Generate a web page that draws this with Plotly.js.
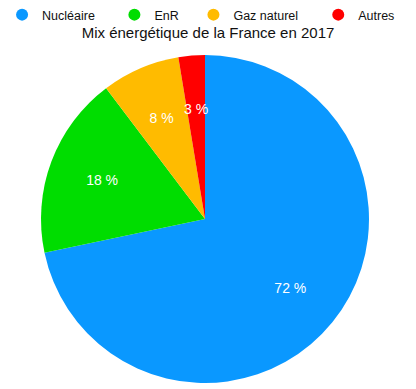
<!DOCTYPE html>
<html><head><meta charset="utf-8">
<script src="https://cdn.plot.ly/plotly-3.0.1.min.js"></script>
<style>html,body{margin:0;padding:0;background:#fff}#chart{width:416px;height:389px}</style>
</head><body><div id="chart"></div>
<script>
const labels = ["Nucléaire", "EnR", "Gaz naturel", "Autres"];
const values = [71.7, 18.0, 7.7, 2.6];
const colors = ["#0a98ff", "#00dd00", "#ffbb00", "#ff0000"];
const legendX = [0.005, 0.275, 0.465, 0.765];

const total = values.reduce((a, b) => a + b, 0);
const pctText = values.map(v => Math.round(v / total * 100) + " %");
const font = "Liberation Sans, Arial, Helvetica, sans-serif";
const cx = 205 / 416, cy = 1 - 219 / 389, rx = 164 / 416, ry = 164 / 389;
function domainScaled(k) {
  return {x: [cx - rx * k, cx + rx * k], y: [cy - ry * k, cy + ry * k]};
}

// label radius fraction (labels sit at ~2/3 of the radius, like the reference)
const labelR = 0.67, hole = 0.34;

const traces = [{
  type: "pie",
  labels: labels,
  values: values,
  textinfo: "none",
  sort: false,
  direction: "clockwise",
  marker: {colors: colors, line: {width: 0}},
  showlegend: false,
  hoverinfo: "label+percent",
  domain: domainScaled(1)
}];
// one transparent overlay per slice so each label sits at the same radius
values.forEach((v, i) => {
  const s = Math.sin(Math.PI * v / total);
  const f = 1 - Math.min(s / (1 + s), (1 - hole) / 2);
  const k = Math.min(1, labelR / f);
  traces.push({
    type: "pie",
    labels: labels,
    values: values,
    text: pctText.map((t, j) => j === i ? t : ""),
    textinfo: "text",
    textposition: "inside",
    insidetextorientation: "horizontal",
    hole: hole,
    sort: false,
    direction: "clockwise",
    marker: {colors: labels.map(() => "rgba(0,0,0,0)"), line: {width: 0}},
    textfont: {color: "#ffffff", size: 14, family: font},
    showlegend: false,
    hoverinfo: "skip",
    domain: domainScaled(k)
  });
});
const layout = {
  width: 416, height: 389,
  margin: {l: 0, r: 0, t: 0, b: 0},
  paper_bgcolor: "#fff", plot_bgcolor: "#fff",
  font: {family: font, color: "#111"},
  title: {text: "Mix énergétique de la France en 2017", font: {size: 15, color: "#111", family: font},
          x: 0.5, xanchor: "center", y: 1 - 33/389, yanchor: "middle", yref: "container"},
  uniformtext: {minsize: 14, mode: "show"},
  xaxis: {visible: false}, yaxis: {visible: false}
};
labels.forEach((lab, i) => {
  const key = i === 0 ? "legend" : "legend" + (i + 1);
  traces.push({
    type: "scatter", mode: "markers", x: [null], y: [null], name: lab,
    marker: {color: colors[i], size: 12, symbol: "circle"},
    legend: key, showlegend: true, hoverinfo: "skip"
  });
  layout[key] = {x: legendX[i], xanchor: "left", y: 1 - 15/389, yanchor: "middle",
    orientation: "h", bgcolor: "rgba(0,0,0,0)", font: {size: 12.5, color: "#111", family: font},
    itemsizing: "constant"};
});
Plotly.newPlot("chart", traces, layout, {displayModeBar: false});
</script></body></html>
